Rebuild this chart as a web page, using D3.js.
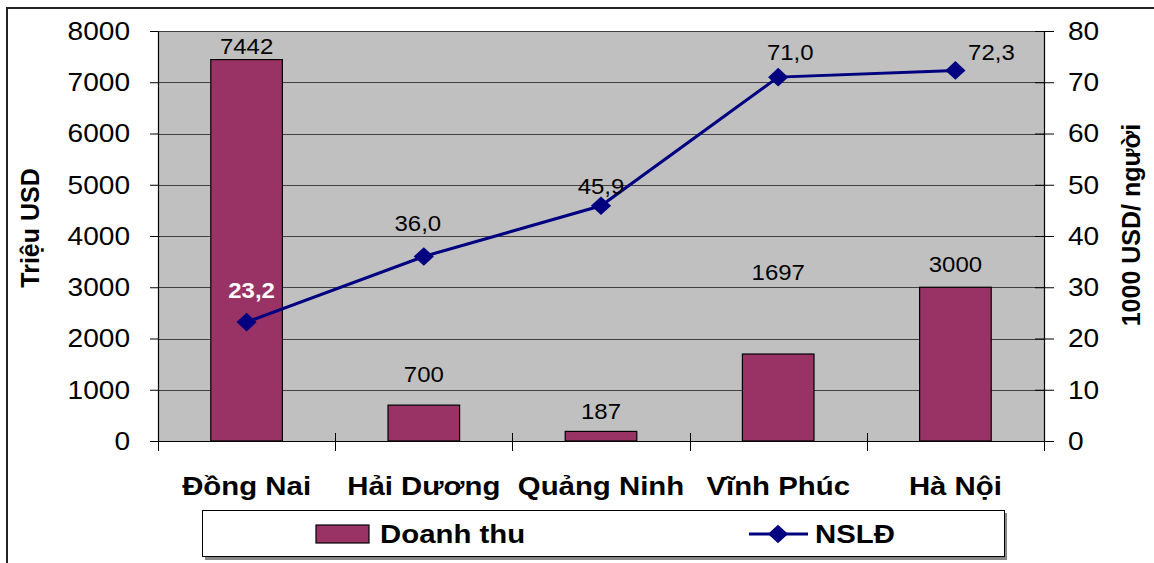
<!DOCTYPE html>
<html>
<head>
<meta charset="utf-8">
<script src="https://cdn.jsdelivr.net/npm/d3@7"></script>
<style>
  body { margin: 0; background: #fff; }
  svg { display: block; font-family: "Liberation Sans", Arial, sans-serif; }
</style>
</head>
<body>
<div id="chart"></div>
<script>
// data
var provinces = ["Đồng Nai", "Hải Dương", "Quảng Ninh", "Vĩnh Phúc", "Hà Nội"];
var revenue = [7442, 700, 187, 1697, 3000];          // Triệu USD
var productivity = [23.2, 36.0, 45.9, 71.0, 72.3];   // 1000 USD/ người
var revenueLabels = ["7442", "700", "187", "1697", "3000"];
var productivityLabels = ["23,2", "36,0", "45,9", "71,0", "72,3"];
var leftTicks = [0, 1000, 2000, 3000, 4000, 5000, 6000, 7000, 8000];
var rightTicks = [0, 10, 20, 30, 40, 50, 60, 70, 80];

var width = 1154, height = 563;
var plot = { left: 158, right: 1044, top: 31, bottom: 441 };

var svg = d3.select('#chart')
    .append('svg')
    .attr('width', width)
    .attr('height', height);

// helper: text stretched horizontally a bit like the original
function txt(g, x, y, s, size, opts) {
    opts = opts || {};
    return g.append('text')
        .attr('transform', 'translate(' + x + ',' + y + ') scale(' + (opts.sx || 1) + ',1)')
        .attr('text-anchor', opts.anchor || 'middle')
        .attr('font-size', size)
        .attr('font-weight', opts.bold ? 'bold' : 'normal')
        .attr('fill', opts.fill || '#000')
        .text(s);
}

// outer chart border
svg.append('rect')
    .attr('x', 7).attr('y', 8)
    .attr('width', 1200).attr('height', 600)
    .attr('fill', 'none')
    .attr('stroke', '#222')
    .attr('stroke-width', 2);

var x = d3.scaleBand()
    .domain(provinces)
    .range([plot.left, plot.right]);
var yL = d3.scaleLinear().domain([0, 8000]).range([plot.bottom, plot.top]);
var yR = d3.scaleLinear().domain([0, 80]).range([plot.bottom, plot.top]);

// plot area
svg.append('rect')
    .attr('x', plot.left).attr('y', plot.top)
    .attr('width', plot.right - plot.left)
    .attr('height', plot.bottom - plot.top)
    .attr('fill', '#c0c0c0');

// gridlines
svg.append('g')
    .selectAll('line')
    .data(leftTicks.filter(d => d > 0))
    .enter()
    .append('line')
    .attr('x1', plot.left).attr('x2', plot.right)
    .attr('y1', d => Math.round(yL(d)) + 0.5)
    .attr('y2', d => Math.round(yL(d)) + 0.5)
    .attr('stroke', '#404040')
    .attr('stroke-width', 1);

// bars
var bw = x.bandwidth() * 0.404;
svg.append('g')
    .selectAll('rect')
    .data(provinces)
    .enter()
    .append('rect')
    .attr('x', (d, i) => x(d) + (x.bandwidth() - bw) / 2)
    .attr('y', (d, i) => yL(revenue[i]))
    .attr('width', bw)
    .attr('height', (d, i) => yL(0) - yL(revenue[i]))
    .attr('fill', '#993366')
    .attr('stroke', '#000')
    .attr('stroke-width', 1.2);

// left axis
var gL = svg.append('g')
    .attr('transform', 'translate(' + plot.left + ',0)')
    .call(d3.axisLeft(yL).tickValues(leftTicks).tickSize(8).tickSizeOuter(0).tickFormat(d => d));
gL.select('.domain').attr('stroke', '#000').attr('stroke-width', 1.2);
gL.selectAll('.tick line').attr('stroke', '#000');
gL.selectAll('.tick text')
    .attr('x', -28 / 1.08)
    .attr('transform', 'scale(1.08,1)')
    .attr('font-size', 26)
    .attr('font-family', '"Liberation Sans", Arial, sans-serif')
    .attr('fill', '#000');

// right axis
var gR = svg.append('g')
    .attr('transform', 'translate(' + plot.right + ',0)')
    .call(d3.axisRight(yR).tickValues(rightTicks).tickSize(10).tickSizeOuter(0).tickFormat(d => d));
gR.select('.domain').attr('stroke', '#000').attr('stroke-width', 1.2);
gR.selectAll('.tick line').attr('stroke', '#000').attr('x1', -9);
gR.selectAll('.tick text')
    .attr('x', 24 / 1.08)
    .attr('transform', 'scale(1.08,1)')
    .attr('font-size', 26)
    .attr('font-family', '"Liberation Sans", Arial, sans-serif')
    .attr('fill', '#000');

// x axis line and category ticks
svg.append('line')
    .attr('x1', plot.left).attr('x2', plot.right)
    .attr('y1', plot.bottom + 0.5).attr('y2', plot.bottom + 0.5)
    .attr('stroke', '#000').attr('stroke-width', 1.2);
var bounds = provinces.map(d => x(d)).concat([x.range()[1]]);
svg.append('g')
    .selectAll('line')
    .data(bounds)
    .enter()
    .append('line')
    .attr('x1', d => Math.round(d) + 0.5).attr('x2', d => Math.round(d) + 0.5)
    .attr('y1', (d, i) => (i == 0 || i == bounds.length - 1) ? plot.bottom : plot.bottom - 8)
    .attr('y2', plot.bottom + 10)
    .attr('stroke', '#000');

// category labels
var gC = svg.append('g');
provinces.forEach(function (d) {
    txt(gC, x(d) + x.bandwidth() / 2, 495, d, 26, { bold: true, sx: 1.13 });
});

// bar value labels (offsets follow the hand-placed labels of the original)
var barLabelDy = [-6, -23, -12, -74, -15];
var gB = svg.append('g');
provinces.forEach(function (d, i) {
    txt(gB, x(d) + x.bandwidth() / 2, yL(revenue[i]) + barLabelDy[i], revenueLabels[i], 22, { sx: 1.09 });
});

// line series
var pts = provinces.map((d, i) => [x(d) + x.bandwidth() / 2, yR(productivity[i])]);
svg.append('path')
    .attr('d', d3.line()(pts))
    .attr('fill', 'none')
    .attr('stroke', '#000080')
    .attr('stroke-width', 3);

var diamond = d3.symbol().type(d3.symbolSquare).size(175);
svg.append('g')
    .selectAll('path')
    .data(pts)
    .enter()
    .append('path')
    .attr('d', diamond)
    .attr('transform', d => 'translate(' + d[0] + ',' + d[1] + ') scale(1.08,1) rotate(45)')
    .attr('fill', '#000080');

// line labels
var lineLabelOff = [[5, -24], [-6, -26], [0, -12], [12, -17], [36, -10]];
var gN = svg.append('g');
pts.forEach(function (p, i) {
    var first = i == 0;
    txt(gN, p[0] + lineLabelOff[i][0], p[1] + lineLabelOff[i][1], productivityLabels[i], 22,
        { sx: 1.09, bold: first, fill: first ? '#fff' : '#000' });
});

// axis titles
svg.append('text')
    .attr('transform', 'translate(39,228) rotate(-90)')
    .attr('text-anchor', 'middle')
    .attr('font-size', 25)
    .attr('font-weight', 'bold')
    .text('Triệu USD');
svg.append('text')
    .attr('transform', 'translate(1140,225) rotate(-90)')
    .attr('text-anchor', 'middle')
    .attr('font-size', 25)
    .attr('font-weight', 'bold')
    .text('1000 USD/ người');

// legend
var lg = svg.append('g');
lg.append('rect')
    .attr('x', 205).attr('y', 513)
    .attr('width', 802).attr('height', 47)
    .attr('fill', '#888');
lg.append('rect')
    .attr('x', 202.5).attr('y', 510.5)
    .attr('width', 802).attr('height', 46)
    .attr('fill', '#fff')
    .attr('stroke', '#000')
    .attr('stroke-width', 1);
lg.append('rect')
    .attr('x', 316).attr('y', 525)
    .attr('width', 53).attr('height', 18)
    .attr('fill', '#993366')
    .attr('stroke', '#000')
    .attr('stroke-width', 1.2);
txt(lg, 380, 543, 'Doanh thu', 26, { bold: true, sx: 1.13, anchor: 'start' });
lg.append('line')
    .attr('x1', 749).attr('x2', 808)
    .attr('y1', 534).attr('y2', 534)
    .attr('stroke', '#000080')
    .attr('stroke-width', 3);
lg.append('path')
    .attr('d', diamond)
    .attr('transform', 'translate(778,534) scale(1.08,1) rotate(45)')
    .attr('fill', '#000080');
txt(lg, 815, 543, 'NSLĐ', 26, { bold: true, sx: 1.13, anchor: 'start' });
</script>
</body>
</html>
